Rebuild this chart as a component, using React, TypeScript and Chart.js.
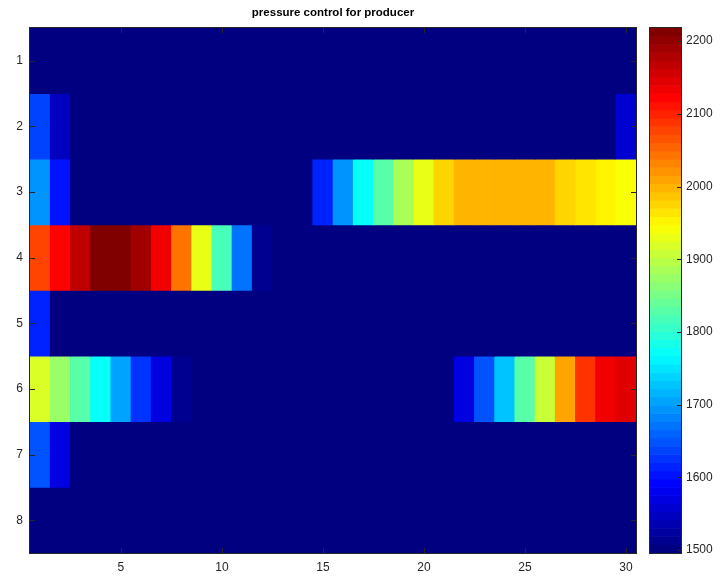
import { useEffect, useRef } from "react";
import { Chart, registerables } from "chart.js";

Chart.register(...registerables);

// ---- data ----------------------------------------------------------------
const TITLE = "pressure control for producer";

const COLUMNS = [
  "1", "2", "3", "4", "5", "6", "7", "8", "9", "10",
  "11", "12", "13", "14", "15", "16", "17", "18", "19", "20",
  "21", "22", "23", "24", "25", "26", "27", "28", "29", "30",
];
const X_TICKS = ["5", "10", "15", "20", "25", "30"];
const ROW_LABELS = [1, 2, 3, 4, 5, 6, 7, 8];

const ROW_1 = [
  1500, 1500, 1500, 1500, 1500, 1500, 1500, 1500, 1500, 1500,
  1500, 1500, 1500, 1500, 1500, 1500, 1500, 1500, 1500, 1500,
  1500, 1500, 1500, 1500, 1500, 1500, 1500, 1500, 1500, 1500,
];
const ROW_2 = [
  1635, 1545, 1500, 1500, 1500, 1500, 1500, 1500, 1500, 1500,
  1500, 1500, 1500, 1500, 1500, 1500, 1500, 1500, 1500, 1500,
  1500, 1500, 1500, 1500, 1500, 1500, 1500, 1500, 1500, 1555,
];
const ROW_3 = [
  1695, 1605, 1500, 1500, 1500, 1500, 1500, 1500, 1500, 1500,
  1500, 1500, 1500, 1500, 1610, 1690, 1770, 1830, 1880, 1932,
  1975, 1995, 1995, 1995, 1995, 1995, 1978, 1965, 1950, 1940,
];
const ROW_4 = [
  2074, 2120, 2168, 2218, 2218, 2187, 2130, 2045, 1932, 1820,
  1672, 1515, 1500, 1500, 1500, 1500, 1500, 1500, 1500, 1500,
  1500, 1500, 1500, 1500, 1500, 1500, 1500, 1500, 1500, 1500,
];
const ROW_5 = [
  1612, 1500, 1500, 1500, 1500, 1500, 1500, 1500, 1500, 1500,
  1500, 1500, 1500, 1500, 1500, 1500, 1500, 1500, 1500, 1500,
  1500, 1500, 1500, 1500, 1500, 1500, 1500, 1500, 1500, 1500,
];
const ROW_6 = [
  1918, 1878, 1825, 1768, 1700, 1630, 1570, 1518, 1505, 1500,
  1500, 1500, 1500, 1500, 1500, 1500, 1500, 1500, 1500, 1500,
  1500, 1565, 1650, 1730, 1825, 1912, 2010, 2084, 2128, 2143,
];
const ROW_7 = [
  1645, 1565, 1500, 1500, 1500, 1500, 1500, 1500, 1500, 1500,
  1500, 1500, 1500, 1500, 1500, 1500, 1500, 1500, 1500, 1500,
  1500, 1500, 1500, 1500, 1500, 1500, 1500, 1500, 1500, 1500,
];
const ROW_8 = [
  1500, 1500, 1500, 1500, 1500, 1500, 1500, 1500, 1500, 1500,
  1500, 1500, 1500, 1500, 1500, 1500, 1500, 1500, 1500, 1500,
  1500, 1500, 1500, 1500, 1500, 1500, 1500, 1500, 1500, 1500,
];
const ROWS = [ROW_1, ROW_2, ROW_3, ROW_4, ROW_5, ROW_6, ROW_7, ROW_8];

const CB_MIN = 1496;
const CB_MAX = 2218;
const CB_TICKS = [1500, 1600, 1700, 1800, 1900, 2000, 2100, 2200];

// ---- colour map (jet, 64 levels) ------------------------------------------
const LEVELS = 64;
const clamp01 = (x: number) => Math.max(0, Math.min(1, x));
function jetAt(t: number): string {
  const r = clamp01(1.5 - Math.abs(4 * t - 3));
  const g = clamp01(1.5 - Math.abs(4 * t - 2));
  const b = clamp01(1.5 - Math.abs(4 * t - 1));
  return `rgb(${Math.round(r * 255)},${Math.round(g * 255)},${Math.round(b * 255)})`;
}
function levelColor(idx: number): string {
  return jetAt(idx / (LEVELS - 1));
}
function valueColor(v: number): string {
  const t = (v - CB_MIN) / (CB_MAX - CB_MIN);
  const idx = Math.max(0, Math.min(LEVELS - 1, Math.floor(t * LEVELS)));
  return levelColor(idx);
}

const FONT_FAMILY = "'Liberation Sans', Arial, Helvetica, sans-serif";
const TEXT_COLOR = "#262626";
const AXIS_COLOR = "#262626";

// ---- plugins ---------------------------------------------------------------
const heatFrame = {
  id: "heatFrame",
  beforeDatasetsDraw(chart: any) {
    const { ctx, chartArea: a } = chart;
    ctx.save();
    ctx.fillStyle = valueColor(CB_MIN);
    ctx.fillRect(a.left, a.top, a.right - a.left, a.bottom - a.top);
    ctx.restore();
  },
  afterDatasetsDraw(chart: any) {
    const { ctx, chartArea: a, scales } = chart;
    ctx.save();
    ctx.strokeStyle = AXIS_COLOR;
    ctx.lineWidth = 1;
    ctx.beginPath();
    for (const lbl of X_TICKS) {
      const x = Math.round(scales.x.getPixelForValue(COLUMNS.indexOf(lbl))) + 0.5;
      ctx.moveTo(x, a.bottom);
      ctx.lineTo(x, a.bottom - 5);
      ctx.moveTo(x, a.top);
      ctx.lineTo(x, a.top + 5);
    }
    for (const r of ROW_LABELS) {
      const y = Math.round(scales.y.getPixelForValue(r)) + 0.5;
      ctx.moveTo(a.left, y);
      ctx.lineTo(a.left + 5, y);
      ctx.moveTo(a.right, y);
      ctx.lineTo(a.right - 5, y);
    }
    ctx.stroke();
    ctx.strokeRect(
      Math.round(a.left) - 0.5,
      Math.round(a.top) - 0.5,
      Math.round(a.right - a.left) + 1,
      Math.round(a.bottom - a.top) + 1
    );
    // title
    ctx.fillStyle = "#000";
    ctx.font = `bold 11.5px ${FONT_FAMILY}`;
    ctx.textAlign = "center";
    ctx.textBaseline = "middle";
    ctx.fillText(TITLE, (a.left + a.right) / 2, 13);
    ctx.restore();
  },
};

const colorBarPaint = {
  id: "colorBarPaint",
  beforeDatasetsDraw(chart: any) {
    const { ctx, chartArea: a, scales } = chart;
    const y = scales.y;
    ctx.save();
    const step = (CB_MAX - CB_MIN) / LEVELS;
    for (let i = 0; i < LEVELS; i++) {
      const y0 = y.getPixelForValue(CB_MIN + i * step);
      const y1 = y.getPixelForValue(CB_MIN + (i + 1) * step);
      ctx.fillStyle = levelColor(i);
      ctx.fillRect(a.left, y1 - 0.3, a.right - a.left, y0 - y1 + 0.6);
    }
    ctx.strokeStyle = AXIS_COLOR;
    ctx.lineWidth = 1;
    ctx.beginPath();
    for (const v of CB_TICKS) {
      const py = Math.round(y.getPixelForValue(v)) + 0.5;
      ctx.moveTo(a.right, py);
      ctx.lineTo(a.right - 4, py);
    }
    ctx.stroke();
    ctx.strokeRect(
      Math.round(a.left) - 0.5,
      Math.round(a.top) - 0.5,
      Math.round(a.right - a.left) + 1,
      Math.round(a.bottom - a.top) + 1
    );
    ctx.restore();
  },
};

// ---- component -------------------------------------------------------------
export default function App() {
  const heatRef = useRef<HTMLCanvasElement | null>(null);
  const barRef = useRef<HTMLCanvasElement | null>(null);

  useEffect(() => {
    if (!heatRef.current || !barRef.current) return;

    const datasets = ROWS.map((row, i) => ({
      label: `row ${ROW_LABELS[i]}`,
      data: row.map(() => [ROW_LABELS[i] - 0.5, ROW_LABELS[i] + 0.5]),
      backgroundColor: row.map(valueColor),
      borderWidth: 0,
      barPercentage: 1,
      categoryPercentage: 1,
      grouped: false,
    }));

    const heat = new Chart(heatRef.current, {
      type: "bar",
      data: { labels: COLUMNS, datasets: datasets as any },
      options: {
        animation: false,
        responsive: false,
        events: [],
        layout: { padding: { top: 28, right: 9, left: 0, bottom: 0 } },
        plugins: { legend: { display: false }, tooltip: { enabled: false }, title: { display: false } },
        scales: {
          x: {
            type: "category",
            grid: { display: false, drawTicks: false },
            border: { display: false },
            afterFit: (s: any) => { s.height = 28; },
            ticks: {
              autoSkip: false,
              maxRotation: 0,
              padding: 7,
              color: TEXT_COLOR,
              font: { family: FONT_FAMILY, size: 12 },
              callback: (_v: any, i: number) => (X_TICKS.includes(COLUMNS[i]) ? COLUMNS[i] : ""),
            },
          },
          y: {
            type: "linear",
            min: 0.5,
            max: 8.5,
            reverse: true,
            grid: { display: false, drawTicks: false },
            border: { display: false },
            afterFit: (s: any) => { s.width = 30; },
            afterBuildTicks: (s: any) => { s.ticks = ROW_LABELS.map((v) => ({ value: v })); },
            ticks: {
              padding: 7,
              color: TEXT_COLOR,
              font: { family: FONT_FAMILY, size: 12 },
              callback: (v: any) => String(v),
            },
          },
        },
      },
      plugins: [heatFrame],
    });

    const bar = new Chart(barRef.current, {
      type: "bar",
      data: { labels: ["colorbar"], datasets: [] },
      options: {
        animation: false,
        responsive: false,
        events: [],
        layout: { padding: { top: 28, right: 0, left: 5, bottom: 28 } },
        plugins: { legend: { display: false }, tooltip: { enabled: false } },
        scales: {
          x: { display: false },
          y: {
            type: "linear",
            position: "right",
            min: CB_MIN,
            max: CB_MAX,
            grid: { display: false, drawTicks: false },
            border: { display: false },
            afterFit: (s: any) => { s.width = 40; },
            afterBuildTicks: (s: any) => { s.ticks = CB_TICKS.map((v) => ({ value: v })); },
            ticks: {
              padding: 5,
              color: TEXT_COLOR,
              font: { family: FONT_FAMILY, size: 12 },
              callback: (v: any) => String(v),
            },
          },
        },
      },
      plugins: [colorBarPaint],
    });

    return () => {
      heat.destroy();
      bar.destroy();
    };
  }, []);

  return (
    <div style={{ position: "absolute", left: 0, top: 0, width: 721, height: 581, background: "#fff" }}>
      <canvas ref={heatRef} width={645} height={581} style={{ position: "absolute", left: 0, top: 0 }} />
      <canvas ref={barRef} width={76} height={581} style={{ position: "absolute", left: 645, top: 0 }} />
    </div>
  );
}
